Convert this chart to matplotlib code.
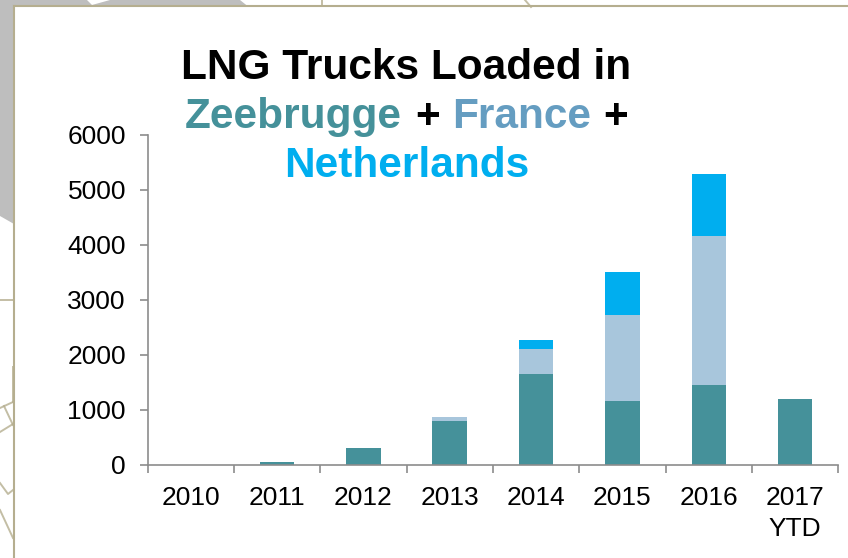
import matplotlib
matplotlib.use("Agg")  # non-GUI env
from matplotlib import pyplot as plt
import numpy as np

plt.rcParams['font.family'] = ['Liberation Sans', 'DejaVu Sans']

# data
years = ["2010", "2011", "2012", "2013", "2014", "2015", "2016", "2017\nYTD"]
zeebrugge = [0, 55, 308, 798, 1650, 1167, 1450, 1190]
france = [0, 0, 0, 66, 453, 1552, 2701, 0]
netherlands = [0, 0, 0, 0, 175, 781, 1129, 0]
y_ticks = [0, 1000, 2000, 3000, 4000, 5000, 6000]

teal = "#45919A"
light = "#A8C6DC"
blue = "#00AEEF"
france_text = "#659DC1"
beige = "#B5AE8F"
gray = "#BEBEBE"
axis_gray = "#8C8C8C"

W, H = 848, 558
fig = plt.figure(figsize=(W / 100, H / 100), dpi=100, facecolor="white")

# backdrop, in image pixels
bg = fig.add_axes([0, 0, 1, 1])
bg.set_xlim(0, W)
bg.set_ylim(H, 0)
bg.axis("off")
bg.fill([0, 240, 250, 14, 14, 0], [0, 0, 8, 8, 224, 216], color=gray, lw=0)
bg.fill([87, 110, 92], [0, 0, 5], color="white", lw=0)
for xs, ys in [([322, 322], [0, 6]),
               ([525, 531], [0, 7]),
               ([0, 14], [300, 300]),
               ([13, 13], [367, 402]),
               ([0, 13], [408, 402]),
               ([4, 13], [406, 425]),
               ([0, 13], [432, 424]),
               ([0, 8, 13], [483, 494, 490]),
               ([0, 13], [510, 538])]:
    bg.plot(xs, ys, color=beige, lw=1.4, alpha=0.8)
bg.fill([14, W, W, 14], [6, 6, H, H], color="white", lw=0)
bg.plot([14, 14], [H, 6], color=beige, lw=1.5)
bg.plot([14, W], [6, 6], color=beige, lw=1.5)

# chart
ax = fig.add_axes([147.5 / W, 1 - 465 / H, (838.3 - 147.5) / W, (465 - 134.5) / H])
ax.patch.set_alpha(0)
x = np.arange(len(years))
z = np.array(zeebrugge)
f = np.array(france)
n = np.array(netherlands)
ax.bar(x, z, 0.4, color=teal)
ax.bar(x, f, 0.4, bottom=z, color=light)
ax.bar(x, n, 0.4, bottom=z + f, color=blue)

ax.set_xlim(-0.5, len(years) - 0.5)
ax.set_ylim(0, 6000)
ax.set_yticks(y_ticks)
ax.set_xticks(x)
ax.set_xticklabels(years, linespacing=1.38)
ax.set_xticks(np.arange(len(years) + 1) - 0.5, minor=True)
ax.tick_params(axis="x", which="minor", length=5.5, width=1.2, color=axis_gray)
ax.tick_params(axis="x", which="major", length=0, labelsize=19, pad=15)
ax.tick_params(axis="y", length=5.5, width=1.2, color=axis_gray, labelsize=19, pad=10)
for side in ["top", "right"]:
    ax.spines[side].set_visible(False)
for side in ["left", "bottom"]:
    ax.spines[side].set_color(axis_gray)
    ax.spines[side].set_linewidth(1.2)

# title, one text per colour
for txt, px, py, col in [("LNG Trucks Loaded in", 181, 79, "black"),
                         ("Zeebrugge", 185, 128, teal),
                         ("+", 415, 128, "black"),
                         ("France", 452, 128, france_text),
                         ("+", 603, 128, "black"),
                         ("Netherlands", 284, 177, blue)]:
    fig.text(px / W, 1 - py / H, txt, color=col, fontsize=30.5, fontweight="bold",
             ha="left", va="baseline")

plt.savefig("out.png", dpi=100)
